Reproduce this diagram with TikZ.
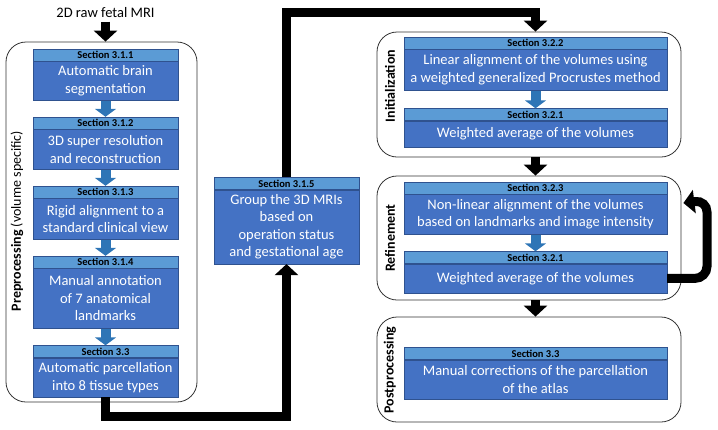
\documentclass[tikz,border=0pt]{standalone}
\usepackage{fontspec}
\setmainfont{Carlito}
\usetikzlibrary{arrows.meta,calc}
\definecolor{bodyblue}{HTML}{4472C4}
\definecolor{headblue}{HTML}{5B9BD5}
\definecolor{edgeblue}{HTML}{2F528F}
\definecolor{arrblue}{HTML}{2E75B6}
\tikzset{
  stage/.style={draw=black!80, thick, rounded corners=20pt, inner sep=0pt},
  sechead/.style={draw=edgeblue, fill=headblue, inner sep=0pt, minimum height=12pt, font=\fontsize{10.5}{12}\selectfont\bfseries},
  secbody/.style={draw=edgeblue, fill=bodyblue, text=white, inner sep=0pt, anchor=north, align=center, font=\fontsize{14.5}{17.5}\selectfont},
  bluearr/.style={draw=arrblue, line width=10pt, -{Triangle[width=21pt,length=8pt]}},
  blackarr/.style={draw=black, line width=9pt, -{Triangle[width=23pt,length=11pt]}},
  stagelabel/.style={rotate=90, font=\fontsize{14}{16}\selectfont}
}
\begin{document}
\begin{tikzpicture}[x=1pt,y=-1pt]
\useasboundingbox (0,0) rectangle (718,429);

\node[font=\fontsize{14.5}{16}\selectfont] (raw) at (105.5,13) {2D raw fetal MRI};

\node[stage, minimum width=191pt, minimum height=360pt] (prep) at (101.5,222) {};
\node[stage, minimum width=304pt, minimum height=125pt] (init) at (529,94.5) {};
\node[stage, minimum width=304pt, minimum height=124pt] (refine) at (529,238) {};
\node[stage, minimum width=304pt, minimum height=105pt] (post) at (529,369.5) {};

\node[stagelabel] at (17,221) {\textbf{Preprocessing} (volume specific)};
\node[stagelabel] at (390,86) {\textbf{Initialization}};
\node[stagelabel] at (390,238) {\textbf{Refinement}};
\node[stagelabel] at (390,370) {\textbf{Postprocessing}};

\node[sechead, minimum width=145pt] (h1) at (105.5,55) {Section 3.1.1};
\node[secbody, minimum width=145pt, minimum height=39pt] (b1) at (h1.south) {Automatic brain\\segmentation};
\node[sechead, minimum width=145pt] (h2) at (105.5,123) {Section 3.1.2};
\node[secbody, minimum width=145pt, minimum height=40pt] (b2) at (h2.south) {3D super resolution\\and reconstruction};
\node[sechead, minimum width=145pt] (h3) at (105.5,192) {Section 3.1.3};
\node[secbody, minimum width=145pt, minimum height=41pt] (b3) at (h3.south) {Rigid alignment to a\\standard clinical view};
\node[sechead, minimum width=145pt] (h4) at (105.5,262) {Section 3.1.4};
\node[secbody, minimum width=145pt, minimum height=60pt] (b4) at (h4.south) {Manual annotation\\of 7 anatomical\\landmarks};
\node[sechead, minimum width=145pt] (h5) at (105.5,351.5) {Section 3.3};
\node[secbody, minimum width=145pt, minimum height=39pt] (b5) at (h5.south) {Automatic parcellation\\into 8 tissue types};

\node[sechead, minimum width=145pt] (h6) at (286.5,183.5) {Section 3.1.5};
\node[secbody, minimum width=145pt, minimum height=74pt] (b6) at (h6.south) {Group the 3D MRIs\\based on\\operation status\\and gestational age};

\node[sechead, minimum width=263pt] (h7) at (535.5,43) {Section 3.2.2};
\node[secbody, minimum width=263pt, minimum height=41pt] (b7) at (h7.south) {Linear alignment of the volumes using\\a weighted generalized Procrustes method};
\node[sechead, minimum width=263pt] (h8) at (535.5,114.5) {Section 3.2.1};
\node[secbody, minimum width=263pt, minimum height=26pt] (b8) at (h8.south) {Weighted average of the volumes};
\node[sechead, minimum width=263pt] (h9) at (535.5,188) {Section 3.2.3};
\node[secbody, minimum width=263pt, minimum height=40pt] (b9) at (h9.south) {Non-linear alignment of the volumes\\based on landmarks and image intensity};
\node[sechead, minimum width=263pt] (h10) at (535.5,257.5) {Section 3.2.1};
\node[secbody, minimum width=263pt, minimum height=29pt] (b10) at (h10.south) {Weighted average of the volumes};
\node[sechead, minimum width=263pt] (h11) at (535.5,353.5) {Section 3.3};
\node[secbody, minimum width=263pt, minimum height=39pt] (b11) at (h11.south) {Manual corrections of the parcellation\\of the atlas};

\draw[bluearr] (b1) -- (h2);
\draw[bluearr] (b2) -- (h3);
\draw[bluearr] (b3) -- (h4);
\draw[bluearr] (b4) -- (h5);
\draw[bluearr] (b7) -- (h8);
\draw[bluearr] (b9) -- (h10);

\coordinate (turn1) at (286.5,416);
\coordinate (turn2) at (400,12);
\coordinate (loopc) at (707,200);

\draw[blackarr] (raw) -- (prep.north -| raw);
\draw[blackarr] (b5.south) |- (turn1) -- (b6.south);
\draw[blackarr] (h6.north) |- (turn2) -| (h7.north |- init.north);
\draw[blackarr] (init.south -| h8.south) -- (refine.north -| h9.north);
\draw[blackarr] (refine.south -| b10.south) -- (post.north -| h11.north);
\draw[blackarr, rounded corners=12pt] (b10.east) -| (loopc) -- ($(refine.east |- loopc)+(2,3)$);
\end{tikzpicture}
\end{document}
